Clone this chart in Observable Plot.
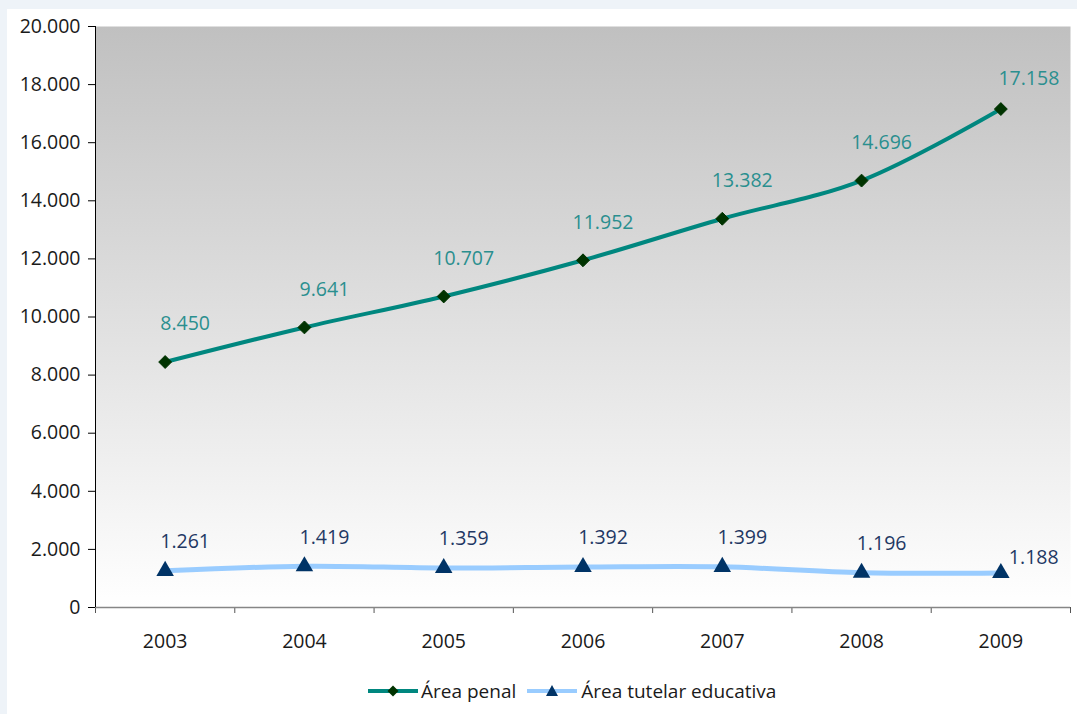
<!DOCTYPE html>
<html><head><meta charset="utf-8">
<script src="https://cdn.jsdelivr.net/npm/d3@7"></script>
<script src="https://cdn.jsdelivr.net/npm/@observablehq/plot@0.6"></script>
<style>
html,body{margin:0;padding:0;width:1077px;height:714px;overflow:hidden;background:#eef3f8;font-family:"Open Sans",sans-serif;}
#card{position:absolute;left:7px;top:9px;right:0;bottom:0;background:#fff;}
#chart{position:absolute;left:0;top:0;}
#legend{position:absolute;top:678px;left:367px;display:flex;align-items:center;font-size:19px;color:#1a1a1a;white-space:nowrap;}
#legend svg{display:block;}
#legend .item{display:flex;align-items:center;}
</style></head>
<body>
<div id="card"></div>
<div id="chart"></div>
<div id="legend"></div>
<script>
const years = [2003, 2004, 2005, 2006, 2007, 2008, 2009];
const penal = [8450, 9641, 10707, 11952, 13382, 14696, 17158];
const tutelar = [1261, 1419, 1359, 1392, 1399, 1196, 1188];
const yTicks = [0, 2000, 4000, 6000, 8000, 10000, 12000, 14000, 16000, 18000, 20000];
const seriesNames = ["Área penal", "Área tutelar educativa"];

const rows = years.map((y, i) => ({year: y, penal: penal[i], tutelar: tutelar[i]}));
const bounds = [2002.5, ...years.map(y => y + 0.5)];
const fmt = d3.formatLocale({decimal: ",", thousands: ".", grouping: [3], currency: ["", ""]}).format(",d");

const penalColor = "#00877f", penalMark = "#003300", penalLabel = "#2a8f8f";
const tutColor = "#99ccff", tutMark = "#003366", tutLabel = "#1f3864";

const lastRow = rows.slice(-1);
const firstRows = rows.slice(0, -1);

const plot = Plot.plot({
  width: 1077,
  height: 655,
  marginLeft: 95,
  marginRight: 7,
  marginTop: 26,
  marginBottom: 48,
  style: {fontFamily: "Open Sans", fontSize: "19.5px", background: "transparent", overflow: "visible"},
  x: {type: "linear", domain: [2002.5, 2009.5], axis: null, label: null},
  y: {domain: [0, 20000], axis: null, label: null},
  marks: [
    Plot.frame({fill: "url(#bg)", stroke: null}),
    Plot.axisY(yTicks, {tickSize: 7, tickPadding: 8, tickFormat: fmt, stroke: "#000", fill: "#1a1a1a", label: null, fontSize: 19.5}),
    Plot.axisX(years, {tickSize: 0, tickPadding: 27, tickFormat: d => String(d), fill: "#1a1a1a", label: null, fontSize: 19.5}),
    Plot.axisX(bounds, {tickSize: 6, tickFormat: () => "", stroke: "#555", label: null}),
    Plot.ruleY([0], {stroke: "#868686", strokeWidth: 1.5}),
    Plot.ruleX([2002.5], {stroke: "#000", strokeWidth: 1}),
    Plot.line(rows, {x: "year", y: "tutelar", stroke: tutColor, strokeWidth: 5, curve: "catmull-rom"}),
    Plot.line(rows, {x: "year", y: "penal", stroke: penalColor, strokeWidth: 4, curve: "catmull-rom"}),
    Plot.dot(rows, {x: "year", y: "penal", symbol: "diamond2", r: 5.8, fill: penalMark, stroke: penalMark, strokeWidth: 1}),
    Plot.dot(rows, {x: "year", y: "tutelar", symbol: "triangle", r: 6.5, fill: tutMark}),
    Plot.text(firstRows, {x: "year", y: "penal", text: d => fmt(d.penal), dx: 20, dy: -38, fill: penalLabel, fontSize: 19.5}),
    Plot.text(lastRow, {x: "year", y: "penal", text: d => fmt(d.penal), dx: 28, dy: -30, fill: penalLabel, fontSize: 19.5}),
    Plot.text(firstRows, {x: "year", y: "tutelar", text: d => fmt(d.tutelar), dx: 20, dy: -29, fill: tutLabel, fontSize: 19.5}),
    Plot.text(lastRow, {x: "year", y: "tutelar", text: d => fmt(d.tutelar), dx: 8, dy: -15, textAnchor: "start", fill: tutLabel, fontSize: 19.5})
  ]
});

const svg = d3.select(plot);
const defs = svg.insert("defs", ":first-child");
const g = defs.append("linearGradient").attr("id", "bg").attr("x1", 0).attr("y1", 0).attr("x2", 0).attr("y2", 1);
g.append("stop").attr("offset", "0%").attr("stop-color", "#c0c0c0");
g.append("stop").attr("offset", "100%").attr("stop-color", "#ffffff");
document.getElementById("chart").appendChild(plot);

// legend
const leg = d3.select("#legend");
const item1 = leg.append("div").attr("class", "item");
const s1 = item1.append("svg").attr("width", 52).attr("height", 14);
s1.append("line").attr("x1", 1).attr("x2", 51).attr("y1", 7).attr("y2", 7).attr("stroke", penalColor).attr("stroke-width", 4);
s1.append("path").attr("d", "M26,1.5 L31.5,7 L26,12.5 L20.5,7 Z").attr("fill", penalMark);
item1.append("span").text(seriesNames[0]).style("margin-left", "2px");
const item2 = leg.append("div").attr("class", "item").style("margin-left", "10px");
const s2 = item2.append("svg").attr("width", 52).attr("height", 14);
s2.append("line").attr("x1", 1).attr("x2", 51).attr("y1", 7).attr("y2", 7).attr("stroke", tutColor).attr("stroke-width", 4);
s2.append("path").attr("d", "M26,1 L32,12 L20,12 Z").attr("fill", tutMark);
item2.append("span").text(seriesNames[1]).style("margin-left", "3px");
</script>
</body></html>
